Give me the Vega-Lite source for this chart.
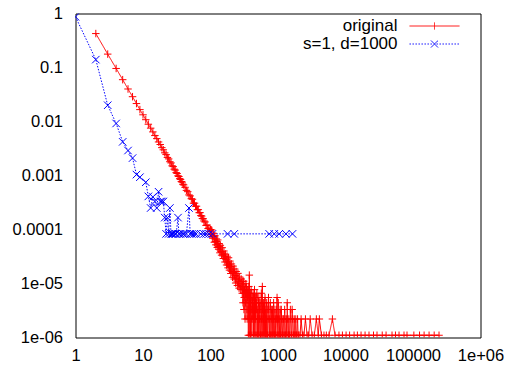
{
"$schema": "https://vega.github.io/schema/vega-lite/v6.json",
"width": 405, "height": 324,
"autosize": "none",
"padding": {"left": 75.5, "top": 13.5, "right": 32.5, "bottom": 28.5},
"background": "white",
"config": {"view": {"stroke": "black", "strokeWidth": 1}, "font": "Liberation Sans"},
"data": {"values": [
{"series":"original","x":2,"y":0.425},{"series":"original","x":3,"y":0.177},{"series":"original","x":4,"y":0.096},{"series":"original","x":5,"y":0.0595},{"series":"original","x":6,"y":0.040},{"series":"original","x":7,"y":0.0288},{"series":"original","x":8,"y":0.0215},{"series":"original","x":9,"y":0.0166},{"series":"original","x":10,"y":0.0133},{"series":"original","x":11,"y":0.0108},{"series":"original","x":12,"y":0.0089},{"series":"original","x":13,"y":0.00753},{"series":"original","x":14,"y":0.00642},{"series":"original","x":15,"y":0.00549},{"series":"original","x":16,"y":0.00482},{"series":"original","x":17,"y":0.00418},{"series":"original","x":18,"y":0.00375},{"series":"original","x":19,"y":0.00328},{"series":"original","x":20,"y":0.00299},{"series":"original","x":21,"y":0.00263},{"series":"original","x":22,"y":0.00244},{"series":"original","x":23,"y":0.00216},{"series":"original","x":24,"y":0.00203},{"series":"original","x":25,"y":0.0018},{"series":"original","x":26,"y":0.00171},{"series":"original","x":27,"y":0.00151},{"series":"original","x":28,"y":0.00146},{"series":"original","x":29,"y":0.00131},{"series":"original","x":30,"y":0.00126},{"series":"original","x":31,"y":0.00113},{"series":"original","x":32,"y":0.00109},{"series":"original","x":33,"y":0.000986},{"series":"original","x":34,"y":0.000958},{"series":"original","x":35,"y":0.000874},{"series":"original","x":36,"y":0.000846},{"series":"original","x":37,"y":0.000772},{"series":"original","x":38,"y":0.000753},{"series":"original","x":39,"y":0.000688},{"series":"original","x":40,"y":0.00067},{"series":"original","x":42,"y":0.000605},{"series":"original","x":44,"y":0.00053},{"series":"original","x":46,"y":0.000502},{"series":"original","x":48,"y":0.000437},{"series":"original","x":50,"y":0.000419},{"series":"original","x":52,"y":0.000372},{"series":"original","x":54,"y":0.000363},{"series":"original","x":56,"y":0.000307},{"series":"original","x":58,"y":0.000307},{"series":"original","x":60,"y":0.00027},{"series":"original","x":62,"y":0.00027},{"series":"original","x":64,"y":0.000233},{"series":"original","x":66,"y":0.000233},{"series":"original","x":68,"y":0.000205},{"series":"original","x":70,"y":0.000205},{"series":"original","x":72,"y":0.000181},{"series":"original","x":74,"y":0.000177},{"series":"original","x":76,"y":0.00016},{"series":"original","x":78,"y":0.000158},{"series":"original","x":80,"y":0.000144},{"series":"original","x":83,"y":0.000138},{"series":"original","x":86,"y":0.000119},{"series":"original","x":89,"y":0.000121},{"series":"original","x":92,"y":0.000104},{"series":"original","x":95,"y":0.000106},{"series":"original","x":98,"y":0.0000911},
{"series":"original","x":100,"y":0.0001},{"series":"original","x":102,"y":0.00008},{"series":"original","x":104,"y":0.000098},{"series":"original","x":106,"y":0.000074},{"series":"original","x":108,"y":0.000069},{"series":"original","x":110,"y":0.000085},{"series":"original","x":112,"y":0.000074},{"series":"original","x":114,"y":0.000058},{"series":"original","x":116,"y":0.000077},{"series":"original","x":118,"y":0.00006},{"series":"original","x":120,"y":0.000052},{"series":"original","x":122,"y":0.000067},{"series":"original","x":124,"y":0.00006},{"series":"original","x":126,"y":0.0000465},{"series":"original","x":128,"y":0.000064},{"series":"original","x":130,"y":0.000049},{"series":"original","x":132,"y":0.000043},{"series":"original","x":134,"y":0.000055},{"series":"original","x":136,"y":0.000048},{"series":"original","x":138,"y":0.000037},{"series":"original","x":140,"y":0.000051},{"series":"original","x":143,"y":0.000039},{"series":"original","x":146,"y":0.0000335},{"series":"original","x":149,"y":0.000046},{"series":"original","x":152,"y":0.000035},{"series":"original","x":155,"y":0.000029},{"series":"original","x":158,"y":0.00004},{"series":"original","x":161,"y":0.000032},{"series":"original","x":164,"y":0.000025},{"series":"original","x":167,"y":0.000035},{"series":"original","x":170,"y":0.000028},{"series":"original","x":173,"y":0.000022},{"series":"original","x":176,"y":0.000032},{"series":"original","x":179,"y":0.000024},{"series":"original","x":182,"y":0.0000195},{"series":"original","x":185,"y":0.00003},{"series":"original","x":188,"y":0.000022},{"series":"original","x":191,"y":0.0000177},{"series":"original","x":194,"y":0.000026},{"series":"original","x":197,"y":0.0000205},{"series":"original","x":200,"y":0.0000153},{"series":"original","x":204,"y":0.000023},{"series":"original","x":208,"y":0.0000167},{"series":"original","x":212,"y":0.000013},{"series":"original","x":216,"y":0.000021},{"series":"original","x":220,"y":0.0000158},{"series":"original","x":224,"y":0.0000121},{"series":"original","x":228,"y":0.0000186},{"series":"original","x":232,"y":0.000014},{"series":"original","x":236,"y":0.0000102},{"series":"original","x":240,"y":0.0000167},{"series":"original","x":245,"y":0.0000121},{"series":"original","x":250,"y":0.0000092},{"series":"original","x":255,"y":0.0000154},{"series":"original","x":260,"y":0.000011},{"series":"original","x":265,"y":0.0000082},{"series":"original","x":270,"y":0.0000132},{"series":"original","x":275,"y":0.0000099},{"series":"original","x":280,"y":0.0000077},{"series":"original","x":285,"y":0.0000121},{"series":"original","x":290,"y":0.0000088},{"series":"original","x":295,"y":0.0000066},{"series":"original","x":300,"y":0.000011},
{"series":"original","x":303,"y":0.0000044},{"series":"original","x":305,"y":0.0000077},{"series":"original","x":308,"y":0.0000066},{"series":"original","x":310,"y":0.000011},{"series":"original","x":313,"y":0.0000033},{"series":"original","x":316,"y":0.0000055},{"series":"original","x":319,"y":0.0000077},{"series":"original","x":322,"y":0.0000088},{"series":"original","x":325,"y":0.0000022},{"series":"original","x":328,"y":0.0000044},{"series":"original","x":331,"y":0.0000066},{"series":"original","x":334,"y":0.0000099},{"series":"original","x":337,"y":0.0000044},{"series":"original","x":340,"y":0.0000066},{"series":"original","x":343,"y":0.0000088},{"series":"original","x":346,"y":0.0000033},{"series":"original","x":349,"y":0.0000022},{"series":"original","x":352,"y":0.0000077},{"series":"original","x":355,"y":0.0000055},{"series":"original","x":358,"y":0.0000055},{"series":"original","x":361,"y":0.0000033},{"series":"original","x":364,"y":0.0000011},{"series":"original","x":367,"y":0.0000066},{"series":"original","x":370,"y":0.0000088},{"series":"original","x":373,"y":0.0000022},{"series":"original","x":376,"y":0.0000143},{"series":"original","x":379,"y":0.0000055},{"series":"original","x":382,"y":0.0000011},{"series":"original","x":385,"y":0.0000033},{"series":"original","x":388,"y":0.0000066},{"series":"original","x":391,"y":0.0000011},{"series":"original","x":394,"y":0.0000044},{"series":"original","x":397,"y":0.0000055},{"series":"original","x":400,"y":0.0000077},{"series":"original","x":403,"y":0.0000033},{"series":"original","x":407,"y":0.0000022},{"series":"original","x":410,"y":0.0000011},{"series":"original","x":414,"y":0.0000055},{"series":"original","x":417,"y":0.0000044},{"series":"original","x":421,"y":0.0000033},{"series":"original","x":424,"y":0.0000022},{"series":"original","x":428,"y":0.0000066},{"series":"original","x":431,"y":0.0000055},{"series":"original","x":435,"y":0.0000011},{"series":"original","x":438,"y":0.0000033},{"series":"original","x":442,"y":0.0000044},{"series":"original","x":445,"y":0.0000011},{"series":"original","x":449,"y":0.0000077},{"series":"original","x":452,"y":0.0000044},{"series":"original","x":456,"y":0.0000022},{"series":"original","x":459,"y":0.0000022},{"series":"original","x":463,"y":0.0000055},{"series":"original","x":466,"y":0.0000033},{"series":"original","x":470,"y":0.0000011},{"series":"original","x":474,"y":0.0000011},{"series":"original","x":478,"y":0.0000044},{"series":"original","x":482,"y":0.0000033},{"series":"original","x":486,"y":0.0000066},{"series":"original","x":490,"y":0.0000055},{"series":"original","x":494,"y":0.0000022},{"series":"original","x":498,"y":0.0000011},{"series":"original","x":502,"y":0.0000033},{"series":"original","x":506,"y":0.0000022},{"series":"original","x":511,"y":0.0000011},{"series":"original","x":515,"y":0.0000044},{"series":"original","x":520,"y":0.0000055},{"series":"original","x":524,"y":0.0000011},{"series":"original","x":529,"y":0.0000022},{"series":"original","x":533,"y":0.0000033},{"series":"original","x":538,"y":0.0000044},{"series":"original","x":542,"y":0.0000022},{"series":"original","x":547,"y":0.0000011},{"series":"original","x":551,"y":0.0000011},{"series":"original","x":556,"y":0.0000033},{"series":"original","x":561,"y":0.0000044},{"series":"original","x":566,"y":0.0000066},{"series":"original","x":571,"y":0.0000022},{"series":"original","x":576,"y":0.0000011},{"series":"original","x":581,"y":0.0000011},{"series":"original","x":586,"y":0.0000088},{"series":"original","x":591,"y":0.0000033},{"series":"original","x":596,"y":0.0000022},{"series":"original","x":601,"y":0.0000011},{"series":"original","x":607,"y":0.0000044},{"series":"original","x":612,"y":0.0000022},{"series":"original","x":618,"y":0.0000011},{"series":"original","x":624,"y":0.0000044},{"series":"original","x":630,"y":0.0000033},{"series":"original","x":636,"y":0.0000011},{"series":"original","x":642,"y":0.0000055},{"series":"original","x":648,"y":0.0000022},{"series":"original","x":654,"y":0.0000011},{"series":"original","x":660,"y":0.0000033},{"series":"original","x":667,"y":0.0000022},{"series":"original","x":673,"y":0.0000011},{"series":"original","x":680,"y":0.0000044},{"series":"original","x":687,"y":0.0000022},{"series":"original","x":694,"y":0.0000011},{"series":"original","x":701,"y":0.0000011},{"series":"original","x":708,"y":0.0000033},{"series":"original","x":715,"y":0.0000033},{"series":"original","x":723,"y":0.0000055},{"series":"original","x":730,"y":0.0000022},{"series":"original","x":738,"y":0.0000011},{"series":"original","x":746,"y":0.0000011},{"series":"original","x":754,"y":0.0000022},{"series":"original","x":762,"y":0.0000033},{"series":"original","x":770,"y":0.0000044},{"series":"original","x":778,"y":0.0000011},{"series":"original","x":787,"y":0.0000011},{"series":"original","x":796,"y":0.0000022},{"series":"original","x":805,"y":0.0000033},{"series":"original","x":814,"y":0.0000011},{"series":"original","x":823,"y":0.0000011},{"series":"original","x":832,"y":0.0000033},{"series":"original","x":842,"y":0.0000022},{"series":"original","x":851,"y":0.0000011},{"series":"original","x":861,"y":0.0000044},{"series":"original","x":871,"y":0.0000022},{"series":"original","x":881,"y":0.0000011},{"series":"original","x":891,"y":0.0000011},{"series":"original","x":902,"y":0.0000033},{"series":"original","x":913,"y":0.0000022},{"series":"original","x":924,"y":0.0000011},{"series":"original","x":935,"y":0.0000011},{"series":"original","x":946,"y":0.0000022},{"series":"original","x":957,"y":0.0000033},{"series":"original","x":969,"y":0.0000055},{"series":"original","x":981,"y":0.0000022},{"series":"original","x":993,"y":0.0000011},{"series":"original","x":1000,"y":0.0000011},
{"series":"original","x":1010,"y":0.0000044},{"series":"original","x":1022,"y":0.0000022},{"series":"original","x":1035,"y":0.0000011},{"series":"original","x":1048,"y":0.0000011},{"series":"original","x":1060,"y":0.0000022},{"series":"original","x":1075,"y":0.0000033},{"series":"original","x":1090,"y":0.0000011},{"series":"original","x":1105,"y":0.0000011},{"series":"original","x":1120,"y":0.0000033},{"series":"original","x":1135,"y":0.0000022},{"series":"original","x":1150,"y":0.0000011},{"series":"original","x":1167,"y":0.0000011},{"series":"original","x":1185,"y":0.0000022},{"series":"original","x":1200,"y":0.0000022},{"series":"original","x":1220,"y":0.0000011},{"series":"original","x":1238,"y":0.0000011},{"series":"original","x":1255,"y":0.0000033},{"series":"original","x":1272,"y":0.0000022},{"series":"original","x":1290,"y":0.0000011},{"series":"original","x":1310,"y":0.0000011},{"series":"original","x":1330,"y":0.0000022},{"series":"original","x":1350,"y":0.0000011},{"series":"original","x":1370,"y":0.0000044},{"series":"original","x":1390,"y":0.0000022},{"series":"original","x":1410,"y":0.0000011},{"series":"original","x":1430,"y":0.0000011},{"series":"original","x":1450,"y":0.0000022},{"series":"original","x":1475,"y":0.0000011},{"series":"original","x":1500,"y":0.0000011},{"series":"original","x":1525,"y":0.0000033},{"series":"original","x":1550,"y":0.0000022},{"series":"original","x":1575,"y":0.0000011},{"series":"original","x":1600,"y":0.0000011},{"series":"original","x":1620,"y":0.0000033},{"series":"original","x":1650,"y":0.0000022},{"series":"original","x":1680,"y":0.0000011},{"series":"original","x":1710,"y":0.0000011},{"series":"original","x":1740,"y":0.0000022},{"series":"original","x":1770,"y":0.0000011},{"series":"original","x":1800,"y":0.0000011},{"series":"original","x":1835,"y":0.0000022},{"series":"original","x":1870,"y":0.0000011},{"series":"original","x":1910,"y":0.0000011},{"series":"original","x":1950,"y":0.0000022},{"series":"original","x":1990,"y":0.0000011},{"series":"original","x":2030,"y":0.0000011},{"series":"original","x":2120,"y":0.0000011},{"series":"original","x":2200,"y":0.0000022},{"series":"original","x":2300,"y":0.0000011},{"series":"original","x":2420,"y":0.0000011},{"series":"original","x":2550,"y":0.0000022},{"series":"original","x":2700,"y":0.0000011},{"series":"original","x":2850,"y":0.0000011},{"series":"original","x":3000,"y":0.0000022},{"series":"original","x":3200,"y":0.0000011},{"series":"original","x":3450,"y":0.0000011},{"series":"original","x":3700,"y":0.0000022},{"series":"original","x":3950,"y":0.0000011},{"series":"original","x":4100,"y":0.0000022},{"series":"original","x":4400,"y":0.0000011},{"series":"original","x":4800,"y":0.0000011},{"series":"original","x":5200,"y":0.0000011},{"series":"original","x":5700,"y":0.0000011},{"series":"original","x":6400,"y":0.0000022},{"series":"original","x":7000,"y":0.0000011},{"series":"original","x":8000,"y":0.0000011},{"series":"original","x":9000,"y":0.0000011},{"series":"original","x":10200,"y":0.0000011},{"series":"original","x":11500,"y":0.0000011},{"series":"original","x":13400,"y":0.0000011},{"series":"original","x":15000,"y":0.0000011},{"series":"original","x":17000,"y":0.0000011},{"series":"original","x":19500,"y":0.0000011},{"series":"original","x":22300,"y":0.0000011},{"series":"original","x":26000,"y":0.0000011},{"series":"original","x":29300,"y":0.0000011},{"series":"original","x":35000,"y":0.0000011},{"series":"original","x":39900,"y":0.0000011},{"series":"original","x":48900,"y":0.0000011},{"series":"original","x":55000,"y":0.0000011},{"series":"original","x":62100,"y":0.0000011},{"series":"original","x":73600,"y":0.0000011},{"series":"original","x":81500,"y":0.0000011},{"series":"original","x":103000,"y":0.0000011},{"series":"original","x":125000,"y":0.0000011},{"series":"original","x":146000,"y":0.0000011},{"series":"original","x":173000,"y":0.0000011},{"series":"original","x":206000,"y":0.0000011},{"series":"original","x":243000,"y":0.0000011},
{"series":"s=1, d=1000","x":1,"y":0.87},{"series":"s=1, d=1000","x":2,"y":0.14},{"series":"s=1, d=1000","x":3,"y":0.02},{"series":"s=1, d=1000","x":4,"y":0.0092},{"series":"s=1, d=1000","x":5,"y":0.0042},{"series":"s=1, d=1000","x":6,"y":0.0029},{"series":"s=1, d=1000","x":7,"y":0.0021},{"series":"s=1, d=1000","x":8,"y":0.00104},{"series":"s=1, d=1000","x":9,"y":0.00093},{"series":"s=1, d=1000","x":11,"y":0.00075},{"series":"s=1, d=1000","x":12,"y":0.00041},{"series":"s=1, d=1000","x":13,"y":0.00025},{"series":"s=1, d=1000","x":14,"y":0.0004},{"series":"s=1, d=1000","x":15,"y":0.00033},{"series":"s=1, d=1000","x":16,"y":0.00025},{"series":"s=1, d=1000","x":17,"y":0.0005},{"series":"s=1, d=1000","x":18,"y":0.00033},{"series":"s=1, d=1000","x":19,"y":0.00033},{"series":"s=1, d=1000","x":20,"y":0.00033},{"series":"s=1, d=1000","x":21,"y":0.000166},{"series":"s=1, d=1000","x":22,"y":0.000083},{"series":"s=1, d=1000","x":23,"y":0.000166},{"series":"s=1, d=1000","x":24,"y":0.000083},{"series":"s=1, d=1000","x":25,"y":0.00025},{"series":"s=1, d=1000","x":26,"y":0.000083},{"series":"s=1, d=1000","x":27,"y":0.000083},{"series":"s=1, d=1000","x":28,"y":0.000083},{"series":"s=1, d=1000","x":30,"y":0.000083},{"series":"s=1, d=1000","x":31,"y":0.000083},{"series":"s=1, d=1000","x":33,"y":0.000166},{"series":"s=1, d=1000","x":34,"y":0.000083},{"series":"s=1, d=1000","x":36,"y":0.000083},{"series":"s=1, d=1000","x":39,"y":0.000083},{"series":"s=1, d=1000","x":41,"y":0.000083},{"series":"s=1, d=1000","x":44,"y":0.000083},{"series":"s=1, d=1000","x":48,"y":0.00025},{"series":"s=1, d=1000","x":50,"y":0.000083},{"series":"s=1, d=1000","x":53,"y":0.000083},{"series":"s=1, d=1000","x":57,"y":0.000083},{"series":"s=1, d=1000","x":61,"y":0.000083},{"series":"s=1, d=1000","x":72,"y":0.000083},{"series":"s=1, d=1000","x":80,"y":0.000083},{"series":"s=1, d=1000","x":86,"y":0.000083},{"series":"s=1, d=1000","x":95,"y":0.000083},{"series":"s=1, d=1000","x":107,"y":0.000083},{"series":"s=1, d=1000","x":179,"y":0.000083},{"series":"s=1, d=1000","x":225,"y":0.000083},{"series":"s=1, d=1000","x":741,"y":0.000083},{"series":"s=1, d=1000","x":880,"y":0.000083},{"series":"s=1, d=1000","x":1040,"y":0.000083},{"series":"s=1, d=1000","x":1310,"y":0.000083},{"series":"s=1, d=1000","x":1640,"y":0.000083}
]},
"encoding": {
  "color": {"field": "series", "type": "nominal",
    "scale": {"domain": ["original", "s=1, d=1000"], "range": ["#ff0000", "#0000ff"]},
    "legend": {
      "title": null, "orient": "none", "legendX": 222, "legendY": 3.5,
      "clipHeight": 18, "rowPadding": 0, "padding": 0,
      "labelFont": "Liberation Sans", "labelFontSize": 17, "labelColor": "black", "labelLimit": 300,
      "symbolSize": 64, "symbolStrokeWidth": 1,
      "encode": {
        "entries": {"update": {"width": {"value": 200}, "height": {"value": 18}}},
        "symbols": {"update": {
          "x": {"value": 137},
          "shape": {"signal": "datum.value === 'original' ? 'M-1,0H1M0,-0.14V0.14' : 'M-1,0h0.06M-0.88,0h0.06M-0.76,0h0.06M-0.64,0h0.06M-0.52,0h0.06M-0.4,0h0.06M-0.28,0h0.06M-0.16,0h0.06M0.08,0h0.06M0.2,0h0.06M0.32,0h0.06M0.44,0h0.06M0.56,0h0.06M0.68,0h0.06M0.8,0h0.06M0.92,0h0.06M-0.14,-0.14L0.14,0.14M-0.14,0.14L0.14,-0.14'"},
          "stroke": {"signal": "datum.value === 'original' ? '#ff0000' : '#0000ff'"},
          "fill": {"value": "transparent"},
          "strokeDash": {"value": [1, 0]},
          "strokeWidth": {"value": 1},
          "size": {"value": 2500},
          "opacity": {"value": 1}
        }},
        "labels": {"update": {"x": {"value": 100}, "align": {"value": "right"}}}
      }
    }
  }
},
"layer": [
  {
    "mark": {"type": "line", "strokeWidth": 1, "clip": true},
    "encoding": {
      "x": {"field": "x", "type": "quantitative",
        "scale": {"type": "log", "domain": [1, 1000000], "nice": false},
        "axis": {"orient": "bottom", "title": null, "domain": false, "grid": false, "tickSize": 0, "tickColor": "black",
          "values": [1,2,3,4,5,6,7,8,9,10,20,30,40,50,60,70,80,90,100,200,300,400,500,600,700,800,900,1000,2000,3000,4000,5000,6000,7000,8000,9000,10000,20000,30000,40000,50000,60000,70000,80000,90000,100000,200000,300000,400000,500000,600000,700000,800000,900000,1000000],
          "labelExpr": "abs(log(datum.value)/LN10-round(log(datum.value)/LN10))<0.000001 ? ['1','10','100','1000','10000','100000','1e+06'][round(log(datum.value)/LN10)] : ''",
          "labelFont": "Liberation Sans", "labelFontSize": 16.5, "labelColor": "black", "labelPadding": 10,
          "labelOverlap": false, "labelFlush": false, "labelBound": false,
          "encode": {"ticks": {"update": {"y2": {"signal": "abs(log(datum.value)/LN10-round(log(datum.value)/LN10))<0.000001 ? -4.5 : -2.3"}}}}
        }},
      "y": {"field": "y", "type": "quantitative",
        "scale": {"type": "log", "domain": [0.000001, 1], "nice": false},
        "axis": {"orient": "left", "title": null, "domain": false, "grid": false, "tickSize": 0, "tickColor": "black",
          "values": [0.000001,0.000002,0.000003,0.000004,0.000005,0.000006,0.000007,0.000008,0.000009,0.00001,0.00002,0.00003,0.00004,0.00005,0.00006,0.00007,0.00008,0.00009,0.0001,0.0002,0.0003,0.0004,0.0005,0.0006,0.0007,0.0008,0.0009,0.001,0.002,0.003,0.004,0.005,0.006,0.007,0.008,0.009,0.01,0.02,0.03,0.04,0.05,0.06,0.07,0.08,0.09,0.1,0.2,0.3,0.4,0.5,0.6,0.7,0.8,0.9,1],
          "labelExpr": "abs(log(datum.value)/LN10-round(log(datum.value)/LN10))<0.000001 ? ['1e-06','1e-05','0.0001','0.001','0.01','0.1','1'][round(log(datum.value)/LN10)+6] : ''",
          "labelFont": "Liberation Sans", "labelFontSize": 16.5, "labelColor": "black", "labelPadding": 13,
          "labelOverlap": false, "labelFlush": false, "labelBound": false,
          "encode": {"ticks": {"update": {"x2": {"signal": "abs(log(datum.value)/LN10-round(log(datum.value)/LN10))<0.000001 ? 4.5 : 2.3"}}}}
        }},
      "strokeDash": {"condition": {"test": "datum.series === 'original'", "value": [1, 0]}, "value": [1.5, 1.5]}
    }
  },
  {
    "mark": {"type": "point", "filled": false, "strokeWidth": 1, "size": 56, "opacity": 1, "clip": true},
    "encoding": {
      "x": {"field": "x", "type": "quantitative",
        "scale": {"type": "log", "domain": [1, 1000000], "nice": false},
        "axis": {"orient": "top", "title": null, "domain": false, "grid": false, "labels": false, "tickSize": 0, "tickColor": "black",
          "values": [1,2,3,4,5,6,7,8,9,10,20,30,40,50,60,70,80,90,100,200,300,400,500,600,700,800,900,1000,2000,3000,4000,5000,6000,7000,8000,9000,10000,20000,30000,40000,50000,60000,70000,80000,90000,100000,200000,300000,400000,500000,600000,700000,800000,900000,1000000],
          "encode": {"ticks": {"update": {"y2": {"signal": "abs(log(datum.value)/LN10-round(log(datum.value)/LN10))<0.000001 ? 4.5 : 2.3"}}}}
        }},
      "y": {"field": "y", "type": "quantitative",
        "scale": {"type": "log", "domain": [0.000001, 1], "nice": false},
        "axis": {"orient": "right", "title": null, "domain": false, "grid": false, "labels": false, "tickSize": 0, "tickColor": "black",
          "values": [0.000001,0.000002,0.000003,0.000004,0.000005,0.000006,0.000007,0.000008,0.000009,0.00001,0.00002,0.00003,0.00004,0.00005,0.00006,0.00007,0.00008,0.00009,0.0001,0.0002,0.0003,0.0004,0.0005,0.0006,0.0007,0.0008,0.0009,0.001,0.002,0.003,0.004,0.005,0.006,0.007,0.008,0.009,0.01,0.02,0.03,0.04,0.05,0.06,0.07,0.08,0.09,0.1,0.2,0.3,0.4,0.5,0.6,0.7,0.8,0.9,1],
          "encode": {"ticks": {"update": {"x2": {"signal": "abs(log(datum.value)/LN10-round(log(datum.value)/LN10))<0.000001 ? -4.5 : -2.3"}}}}
        }},
      "shape": {"condition": {"test": "datum.series === 'original'", "value": "M-1,0H1M0,-1V1"}, "value": "M-1,-1L1,1M-1,1L1,-1"}
    }
  }
],
"resolve": {"axis": {"x": "independent", "y": "independent"}}
}
